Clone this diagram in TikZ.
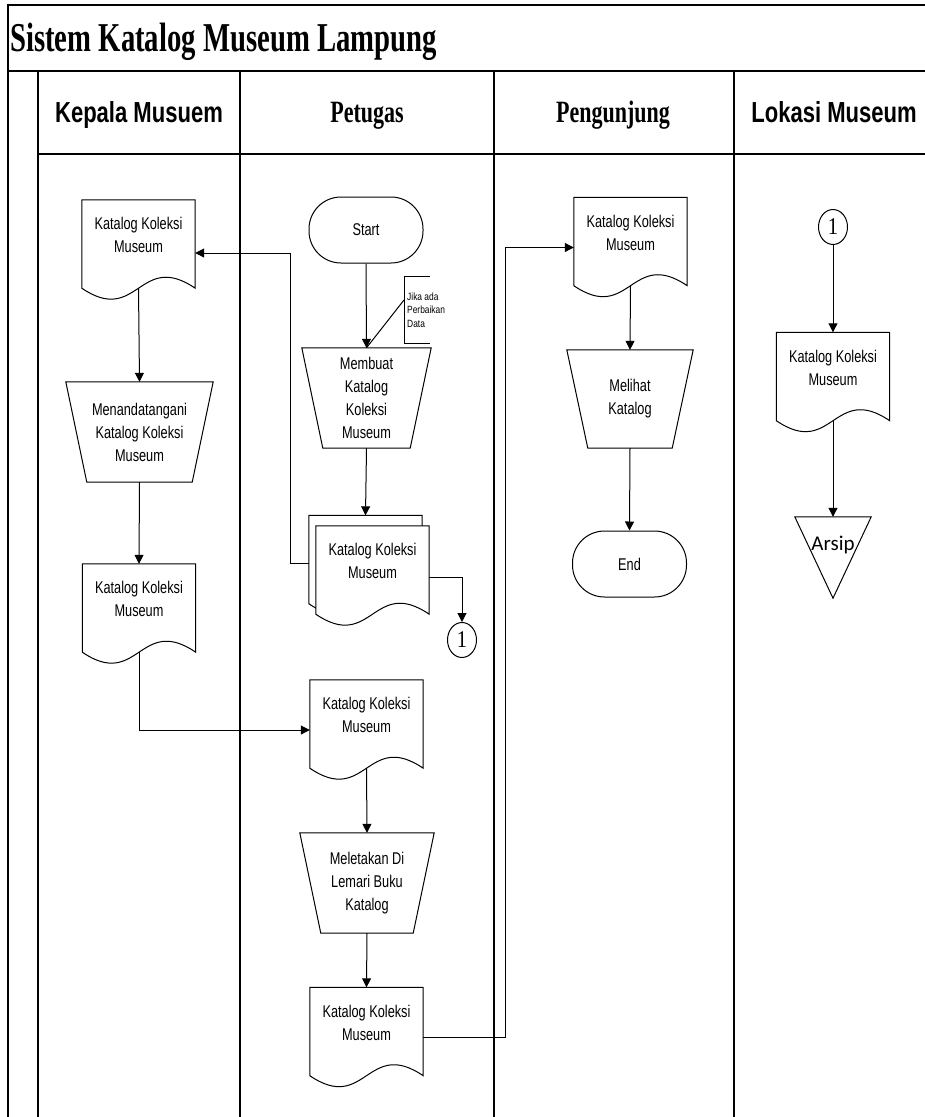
\documentclass[tikz,border=0pt]{standalone}
\usepackage{fontspec}
\usetikzlibrary{arrows.meta,calc,shapes.geometric}
\newfontfamily\titlefont[FakeStretch=0.70]{Liberation Serif}
\newfontfamily\lanesans[FakeStretch=0.76]{Liberation Sans}
\newfontfamily\laneserif[FakeStretch=0.71]{Liberation Serif}
\newfontfamily\boxfont[FakeStretch=0.75]{Liberation Sans}
\newfontfamily\notefont[FakeStretch=0.80]{Liberation Sans}
\newfontfamily\digitfont[FakeStretch=0.85]{Liberation Serif}
\newfontfamily\calfont{Carlito}
\pgfdeclarelayer{bg}
\pgfsetlayers{bg,main}
\begin{document}
\begin{tikzpicture}[x=1pt,y=-1pt,
  frame/.style={line width=1.1pt},
  arr/.style={line width=1pt,-{Triangle[length=9pt,width=9pt]}},
  plain/.style={line width=1pt},
  boxtext/.style={inner sep=0pt,align=center,font=\boxfont\fontsize{17}{23}\selectfont},
  doc/.style={boxtext,minimum width=113pt,minimum height=88pt,
    execute at end node={\rule[-18pt]{0pt}{0pt}},
    append after command={\pgfextra{\begin{pgfonlayer}{bg}
      \draw[fill=white,line width=1pt] (\tikzlastnode.north west) -- (\tikzlastnode.south west)
        .. controls +(56,38) and +(-56,-38) .. (\tikzlastnode.south east)
        -- (\tikzlastnode.north east) -- cycle;
      \end{pgfonlayer}}}},
  trap/.style={boxtext,minimum width=#1,minimum height=100pt,
    append after command={\pgfextra{\begin{pgfonlayer}{bg}
      \draw[fill=white,line width=1pt] (\tikzlastnode.north west) -- (\tikzlastnode.north east)
        -- ([xshift=-21pt]\tikzlastnode.south east) -- ([xshift=21pt]\tikzlastnode.south west) -- cycle;
      \end{pgfonlayer}}}},
  term/.style={boxtext,draw,fill=white,line width=1pt,rounded corners=32pt,
    minimum width=114pt,minimum height=66pt},
  conn/.style={ellipse,draw,line width=1pt,inner sep=0pt,minimum width=29pt,minimum height=35pt,
    font=\digitfont\fontsize{24}{24}\selectfont},
  note/.style={inner xsep=3pt,inner ysep=0pt,minimum height=66pt,align=left,
    font=\notefont\fontsize{10.5}{13.5}\selectfont,
    append after command={\pgfextra{
      \draw[line width=1pt] ([xshift=26pt]\tikzlastnode.north west) -- (\tikzlastnode.north west)
        -- (\tikzlastnode.south west) -- ([xshift=26pt]\tikzlastnode.south west);}}},
  tri/.style={inner sep=0pt,minimum width=76pt,minimum height=81pt,
    font=\calfont\fontsize{21}{21}\selectfont,
    execute at end node={\rule[-28pt]{0pt}{0pt}},
    append after command={\pgfextra{\begin{pgfonlayer}{bg}
      \draw[fill=white,line width=1pt] (\tikzlastnode.north west) -- (\tikzlastnode.north east)
        -- (\tikzlastnode.south) -- cycle;
      \end{pgfonlayer}}}},
  hsans/.style={anchor=base,font=\lanesans\bfseries\fontsize{29}{29}\selectfont},
  hserif/.style={anchor=base,font=\laneserif\bfseries\fontsize{31}{31}\selectfont}
]
\useasboundingbox (0,0) rectangle (925,1117);

% swimlane frame
\begin{pgfonlayer}{bg}
\draw[frame] (925,5) -- (8,5) -- (8,1117);
\draw[frame] (8,71) -- (925,71);
\draw[frame] (38,71) -- (38,1117);
\draw[frame] (38,154) -- (925,154);
\foreach \x in {240,494,734} \draw[frame] (\x,71) -- (\x,1117);
\end{pgfonlayer}

% title and lane headers
\node[anchor=base west,inner sep=0pt,font=\titlefont\bfseries\fontsize{41}{41}\selectfont] (title) at (10,51) {Sistem Katalog Museum Lampung};
\node[hsans] (h1) at (139,122) {Kepala Musuem};
\node[hserif] (h2) at (367,122) {Petugas};
\node[hserif] (h3) at (613,122) {Pengunjung};
\node[hsans] (h4) at (834,122) {Lokasi Museum};

% Kepala Museum
\node[doc] (d1) at (138.5,244) {Katalog Koleksi\\Museum};
\node[trap=147pt] (t1) at (139.5,432) {Menandatangani\\Katalog Koleksi\\Museum};
\node[doc] (d2) at (139,608) {Katalog Koleksi\\Museum};

% Petugas
\node[term] (start) at (366,230) {Start};
\node[note,anchor=west] (nt) at (404,310) {Jika ada\\Perbaikan\\Data};
\node[trap=129pt] (t2) at (366.5,398) {Membuat\\Katalog\\Koleksi\\Museum};
\node[doc] (mdb) at (365.5,559.5) {};
\node[doc] (mdf) at (372.5,570) {Katalog Koleksi\\Museum};
\node[conn] (c1) at (462,640) {1};
\node[doc] (d3) at (366.5,724) {Katalog Koleksi\\Museum};
\node[trap=134pt] (t3) at (367,883) {Meletakan Di\\Lemari Buku\\Katalog};
\node[doc] (d4) at (366.5,1031.5) {Katalog Koleksi\\Museum};

% Pengunjung
\node[doc] (d5) at (630.5,241.5) {Katalog Koleksi\\Museum};
\node[trap=126pt,minimum height=98pt] (t4) at (630,399) {Melihat\\Katalog};
\node[term] (end) at (629.5,564) {End};

% Lokasi Museum
\node[conn] (c2) at (833,227) {1};
\node[doc] (d6) at (833,376.5) {Katalog Koleksi\\Museum};
\node[tri] (arsip) at (833,557.5) {Arsip};

% connectors
\draw[arr] (start.south) -- (t2.north);
\draw[plain] ([yshift=10pt]nt.west) -- (t2.north);
\draw[arr] (t2.south) -- (mdb.north);
\draw[arr] ([yshift=-4pt]mdb.west) -- ++(-18,0) |- ([yshift=-9pt]d1.east);
\draw[arr] ([yshift=-7pt]mdf.east) -| (c1.north);
\draw[arr] (d1.south) -- (t1.north);
\draw[arr] (t1.south) -- (d2.north);
\draw[arr] (d2.south) |- ([yshift=-6pt]d3.west);
\draw[arr] (d3.south) -- (t3.north);
\draw[arr] (t3.south) -- (d4.north);
\draw[arr] ([yshift=-6pt]d4.east) -- ++(82,0) |- ([yshift=-6pt]d5.west);
\draw[arr] (d5.south) -- (t4.north);
\draw[arr] (t4.south) -- (end.north);
\draw[arr] (c2.south) -- (d6.north);
\draw[arr] (d6.south) -- (arsip.north);
\end{tikzpicture}
\end{document}
